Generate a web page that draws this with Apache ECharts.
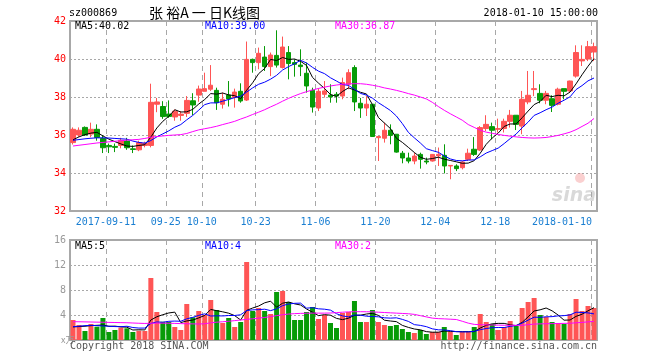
<!DOCTYPE html>
<html><head><meta charset="utf-8">
<script src="https://cdn.jsdelivr.net/npm/echarts/dist/echarts.min.js"></script>
<style>html,body{margin:0;padding:0;background:#fff}#c{width:660px;height:360px}</style>
</head><body><div id="c"></div>
<script>
const dates = ['2017-09-01','2017-09-04','2017-09-05','2017-09-06','2017-09-07','2017-09-08','2017-09-11','2017-09-12','2017-09-13','2017-09-14','2017-09-15','2017-09-18','2017-09-19','2017-09-20','2017-09-21','2017-09-22','2017-09-25','2017-09-26','2017-09-27','2017-09-28','2017-09-29','2017-10-09','2017-10-10','2017-10-11','2017-10-12','2017-10-13','2017-10-16','2017-10-17','2017-10-18','2017-10-19','2017-10-20','2017-10-23','2017-10-24','2017-10-25','2017-10-26','2017-10-27','2017-10-30','2017-10-31','2017-11-01','2017-11-02','2017-11-03','2017-11-06','2017-11-07','2017-11-08','2017-11-09','2017-11-10','2017-11-13','2017-11-14','2017-11-15','2017-11-16','2017-11-17','2017-11-20','2017-11-21','2017-11-22','2017-11-23','2017-11-24','2017-11-27','2017-11-28','2017-11-29','2017-11-30','2017-12-01','2017-12-04','2017-12-05','2017-12-06','2017-12-07','2017-12-08','2017-12-11','2017-12-12','2017-12-13','2017-12-14','2017-12-15','2017-12-18','2017-12-19','2017-12-20','2017-12-21','2017-12-22','2017-12-25','2017-12-26','2017-12-27','2017-12-28','2017-12-29','2018-01-02','2018-01-03','2018-01-04','2018-01-05','2018-01-08','2018-01-09','2018-01-10'];

const opens = [35.6,36.0,36.4,36.05,36.3,35.82,35.45,35.4,35.45,35.68,
 35.27,35.22,35.45,35.45,37.62,37.5,37.1,36.95,37.03,37.14,
 37.8,38.1,38.3,38.41,38.35,37.62,38.1,37.97,38.3,37.84,
 39.98,39.81,40.1,39.6,40.19,39.55,40.34,39.81,39.68,39.25,
 38.35,37.42,38.14,38.1,38.14,38.05,38.67,39.55,37.67,37.42,
 37.62,35.86,35.83,36.25,36.04,35.04,34.79,34.63,34.98,34.63,
 34.63,34.9,34.93,34.37,34.37,34.28,34.72,35.25,35.21,36.34,
 36.44,36.3,36.34,36.72,37.04,36.47,37.74,38.39,38.19,37.83,
 37.91,37.62,38.44,38.32,39.1,39.9,40.0,40.37];
const closes = [36.3,36.25,36.0,36.3,35.87,35.33,35.38,35.35,35.72,35.33,
 35.24,35.6,35.56,37.72,37.74,36.97,36.98,37.25,37.1,37.82,
 37.58,38.42,38.44,38.62,37.7,37.88,37.9,38.26,37.79,39.98,
 39.81,40.3,39.6,40.21,39.68,40.63,39.76,39.72,39.6,38.58,
 37.47,38.3,38.32,38.0,38.05,38.76,39.28,37.74,37.42,37.62,
 35.92,35.92,36.25,35.98,35.1,34.79,34.63,34.89,34.72,34.58,
 34.98,34.98,34.37,34.4,34.23,34.58,35.04,34.98,36.39,36.56,
 36.25,36.34,36.72,37.04,36.56,37.88,38.09,38.44,37.83,38.19,
 37.56,38.41,38.3,38.84,40.34,39.98,40.65,40.65];
const lows = [35.5,35.9,35.95,35.88,35.7,35.05,35.05,35.1,35.3,35.22,
 35.05,35.15,35.35,35.35,37.2,36.85,36.9,36.75,36.75,36.95,
 37.05,37.75,38.3,38.32,37.32,37.39,37.5,37.44,37.7,37.79,
 39.28,39.46,39.37,39.1,39.55,39.5,38.93,39.07,39.1,38.23,
 37.18,37.26,37.97,37.7,37.7,37.88,38.41,37.26,36.9,37.0,
 35.9,34.63,35.6,35.51,35.07,34.51,34.51,34.46,34.23,34.46,
 34.6,34.37,33.98,33.67,34.1,34.19,34.63,34.9,35.16,36.21,
 35.77,36.13,36.13,36.39,36.26,36.04,37.62,38.05,37.67,37.62,
 37.21,37.56,37.88,38.23,39.02,39.63,39.89,39.89];
const highs = [36.4,36.4,36.45,36.65,36.56,36.0,35.55,35.55,35.85,35.85,
 35.45,35.7,35.65,38.7,37.95,37.78,37.82,37.35,37.26,38.05,
 38.2,38.6,39.28,39.68,38.49,38.23,38.84,38.44,38.72,40.92,
 40.02,40.6,40.68,40.34,41.51,41.18,40.68,39.98,40.51,39.81,
 38.49,38.46,38.84,38.67,38.26,39.02,39.46,39.67,37.95,38.05,
 37.62,35.92,36.65,36.56,36.04,35.16,35.07,35.07,35.07,34.81,
 35.0,35.34,35.51,34.4,34.46,34.63,35.28,35.89,36.47,37.04,
 36.65,36.86,36.86,37.32,37.04,38.32,39.37,39.37,38.67,38.32,
 38.09,38.49,38.44,38.86,40.72,40.72,40.95,40.86];

const ma5 = [35.75,35.9,36.02,36.1,36.14,35.95,35.78,35.65,35.53,35.42,
 35.4,35.45,35.49,35.89,36.37,36.72,36.99,37.33,37.21,37.22,
 37.35,37.63,37.87,38.18,38.15,38.21,38.11,38.07,37.91,38.36,
 38.75,39.23,39.5,39.98,39.92,40.08,39.98,40.0,39.88,39.66,
 39.03,38.73,38.45,38.13,38.03,38.29,38.48,38.37,38.25,38.16,
 37.6,36.92,36.63,36.34,35.83,35.61,35.35,35.08,34.83,34.72,
 34.76,34.83,34.73,34.66,34.59,34.51,34.52,34.65,35.04,35.51,
 35.84,36.1,36.45,36.58,36.58,36.91,37.26,37.6,37.76,38.09,
 38.02,38.09,38.06,38.26,38.69,39.17,39.62,40.02];
const ma10 = [35.72,35.76,35.8,35.83,35.85,35.85,35.84,35.82,35.8,35.78,
 35.68,35.61,35.57,35.71,35.9,36.06,36.22,36.41,36.55,36.8,
 37.03,37.31,37.6,37.69,37.69,37.78,37.87,37.97,38.04,38.26,
 38.48,38.67,38.78,38.94,39.14,39.42,39.6,39.75,39.93,39.79,
 39.56,39.36,39.23,39.01,38.84,38.66,38.61,38.41,38.19,38.1,
 37.94,37.7,37.5,37.29,37.0,36.6,36.14,35.85,35.58,35.28,
 35.18,35.09,34.9,34.74,34.66,34.64,34.68,34.69,34.85,35.05,
 35.18,35.31,35.55,35.81,36.05,36.38,36.68,37.03,37.17,37.33,
 37.47,37.67,37.83,38.01,38.39,38.6,38.85,39.0];
const ma30 = [35.42,35.46,35.5,35.54,35.58,35.61,35.64,35.67,35.7,35.73,
 35.75,35.77,35.82,35.88,35.92,35.95,35.98,36.0,36.02,36.08,
 36.18,36.27,36.33,36.39,36.46,36.55,36.63,36.72,36.84,36.95,
 37.08,37.2,37.33,37.48,37.62,37.78,37.93,38.06,38.18,38.28,
 38.37,38.45,38.52,38.58,38.63,38.67,38.69,38.7,38.7,38.67,
 38.62,38.56,38.48,38.42,38.35,38.27,38.18,38.1,38.0,37.9,
 37.72,37.5,37.3,37.12,36.95,36.78,36.55,36.4,36.25,36.15,
 36.09,36.03,35.98,35.94,35.9,35.87,35.85,35.84,35.85,35.87,
 35.92,35.98,36.06,36.15,36.28,36.45,36.62,36.87];

const volumes = [3.2,2.4,1.44,2.56,2.13,3.52,1.28,1.6,1.97,1.87,
 1.28,1.49,1.44,9.92,4.48,2.93,2.88,2.08,1.6,5.76,
 3.63,4.64,4.0,6.4,4.8,2.72,3.52,2.08,2.88,12.48,
 4.64,5.12,4.64,4.16,7.68,7.84,6.08,3.2,3.2,4.48,
 5.28,3.36,4.0,2.72,1.92,4.32,4.48,6.24,2.88,2.88,
 4.8,2.88,2.4,2.24,2.4,1.76,1.28,1.12,1.6,0.96,
 1.28,1.28,2.08,1.28,0.8,1.28,1.28,2.08,4.16,2.88,
 2.56,1.6,2.08,3.04,2.24,5.12,6.08,6.72,4.0,3.68,
 2.88,2.72,2.56,4.16,6.56,4.64,5.44,5.12];
const volMa5 = [2.1,2.15,2.2,2.3,2.35,2.41,2.19,2.22,2.1,2.05,
 1.6,1.64,1.61,3.2,3.72,4.05,4.33,4.46,2.79,3.05,
 3.19,3.54,3.93,4.89,4.69,4.51,4.29,3.9,3.2,4.74,
 5.12,5.44,5.95,6.21,5.25,5.89,6.08,5.79,5.6,4.96,
 4.45,3.9,4.06,3.97,3.46,3.26,3.49,3.94,3.97,4.16,
 4.26,3.94,3.17,3.04,2.94,2.34,2.02,1.76,1.63,1.34,
 1.25,1.25,1.44,1.38,1.34,1.34,1.34,1.34,1.92,2.34,
 2.59,2.66,2.66,2.43,2.3,2.82,3.71,4.64,4.83,5.12,
 4.67,4.0,3.17,3.2,3.78,4.13,4.67,5.18];
const volMa10 = [2.13,2.2,2.3,2.35,2.3,2.25,2.2,2.15,2.13,2.2,
 2.0,1.91,1.91,2.65,2.89,2.83,2.99,3.03,3.0,3.39,
 3.62,3.94,4.19,3.84,3.87,3.85,3.92,3.92,4.04,4.72,
 4.82,4.86,4.93,4.7,4.99,5.5,5.76,5.87,5.9,5.1,
 5.17,4.99,4.93,4.78,4.21,3.86,3.7,4.0,3.97,3.81,
 3.76,3.71,3.55,3.5,3.55,3.3,2.98,2.46,2.34,2.14,
 1.79,1.63,1.6,1.5,1.34,1.3,1.3,1.39,1.65,1.84,
 1.97,2.0,2.0,2.18,2.32,2.7,3.18,3.65,3.63,3.71,
 3.74,3.86,3.9,4.02,4.45,4.4,4.34,4.18];
const volMa30 = [2.93,2.92,2.9,2.88,2.86,2.84,2.82,2.8,2.78,2.76,
 2.72,2.68,2.65,2.68,2.7,2.7,2.68,2.66,2.62,2.6,
 2.58,2.56,2.6,2.75,2.85,2.92,3.0,3.1,3.2,3.3,
 3.4,3.5,3.6,3.75,3.9,4.05,4.15,4.22,4.26,4.28,
 4.3,4.3,4.3,4.32,4.38,4.45,4.5,4.53,4.53,4.52,
 4.5,4.45,4.4,4.35,4.3,4.25,4.2,4.1,3.9,3.7,
 3.5,3.42,3.38,3.33,3.28,3.0,2.7,2.5,2.45,2.42,
 2.4,2.38,2.36,2.35,2.35,2.35,2.45,2.55,2.58,2.6,
 2.62,2.64,2.66,2.68,2.75,2.82,2.9,2.98];

const tickDates = ['2017-09-11','2017-09-25','2017-10-10','2017-10-23','2017-11-06','2017-11-20','2017-12-04','2017-12-18','2018-01-10'];
const tickLabels = ['2017-09-11','09-25','10-10','10-23','11-06','11-20','12-04','12-18','2018-01-10'];

const UP = '#ff5555', DOWN = '#079b07';
const MONO = "'DejaVu Sans Mono', monospace";
const GRID_C = '#a8a8a8';

const chart = echarts.init(document.getElementById('c'), null, {renderer: 'canvas'});
const kData = dates.map((d, i) => [opens[i], closes[i], lows[i], highs[i]]);
const volData = volumes.map((v, i) => ({value: v, itemStyle: {color: closes[i] >= opens[i] ? UP : DOWN}}));
const isTick = (i, v) => tickDates.indexOf(v) >= 0;

const lineS = (name, data, color, xi, yi) => ({
  name, type: 'line', data, xAxisIndex: xi, yAxisIndex: yi, showSymbol: false, symbol: 'none',
  lineStyle: {width: 1, color}, itemStyle: {color}, silent: true, z: 5
});

const txt = (text, x, y, fill, font, align, z) => ({
  type: 'text', x, y, silent: true, z: z || 100,
  style: {text, fill, font: font || ('10px ' + MONO), textAlign: align || 'left', textVerticalAlign: 'middle'}
});

chart.setOption({
  animation: false,
  backgroundColor: '#fff',
  grid: [
    {left: 70, top: 21, width: 527, height: 190, show: true, borderColor: GRID_C, borderWidth: 2, backgroundColor: 'transparent'},
    {left: 70, top: 240, width: 527, height: 100, show: true, borderColor: GRID_C, borderWidth: 2, backgroundColor: 'transparent'}
  ],
  xAxis: [
    {type: 'category', gridIndex: 0, data: dates, boundaryGap: true,
     axisLine: {show: false}, axisTick: {show: false},
     splitLine: {show: true, interval: isTick, lineStyle: {color: GRID_C, type: [5, 4], width: 1}},
     axisLabel: {interval: isTick, margin: 6, color: '#1a7fd2', fontFamily: MONO, fontSize: 10,
       formatter: (v) => { const k = tickDates.indexOf(v); if (k < 0) return ''; return (k === tickDates.length - 1 ? '{l|' : '{n|') + tickLabels[k] + '}'; },
       rich: {n: {padding: [0, 6, 0, 0], color: '#1a7fd2', fontFamily: MONO, fontSize: 10},
              l: {padding: [0, 64, 0, 0], color: '#1a7fd2', fontFamily: MONO, fontSize: 10}}}},
    {type: 'category', gridIndex: 1, data: dates, boundaryGap: true,
     axisLine: {show: false}, axisTick: {show: false}, axisLabel: {show: false},
     splitLine: {show: true, interval: isTick, lineStyle: {color: GRID_C, type: [5, 4], width: 1}}}
  ],
  yAxis: [
    {type: 'value', gridIndex: 0, min: 32, max: 42, interval: 2, position: 'left',
     axisLine: {show: false}, axisTick: {show: false},
     axisLabel: {color: '#ff0000', fontFamily: MONO, fontSize: 10, margin: 4},
     splitLine: {show: true, lineStyle: {color: GRID_C, type: [2, 2], width: 1}}},
    {type: 'value', gridIndex: 1, min: 0, max: 16, interval: 4, position: 'left',
     axisLine: {show: false}, axisTick: {show: false},
     axisLabel: {color: '#999', fontFamily: MONO, fontSize: 10, margin: 4, formatter: (v) => v === 0 ? '' : String(v)},
     splitLine: {show: true, lineStyle: {color: GRID_C, type: [2, 2], width: 1}}}
  ],
  series: [
    {name: 'K', type: 'candlestick', data: kData, xAxisIndex: 0, yAxisIndex: 0, barWidth: 5, silent: true,
     itemStyle: {color: UP, color0: DOWN, borderColor: UP, borderColor0: DOWN, borderWidth: 1}},
    lineS('MA5', ma5, '#000000', 0, 0),
    lineS('MA10', ma10, '#0000ff', 0, 0),
    lineS('MA30', ma30, '#ff00ff', 0, 0),
    {name: 'VOL', type: 'bar', data: volData, xAxisIndex: 1, yAxisIndex: 1, barWidth: 5, silent: true},
    lineS('VMA5', volMa5, '#000000', 1, 1),
    lineS('VMA10', volMa10, '#0000ff', 1, 1),
    lineS('VMA30', volMa30, '#ff00ff', 1, 1)
  ],
  graphic: [
    txt('sz000869', 69, 13, '#000'),
    txt('张 裕A 一 日K线图', 149, 13, '#000', '14px "Noto Sans CJK SC", sans-serif'),
    txt('2018-01-10 15:00:00', 598, 13, '#000', null, 'right'),
    txt('MA5:40.02', 75, 26, '#000'),
    txt('MA10:39.00', 205, 26, '#0000ff'),
    txt('MA30:36.87', 335, 26, '#ff00ff'),
    txt('MA5:5', 75, 246, '#000'),
    txt('MA10:4', 205, 246, '#0000ff'),
    txt('MA30:2', 335, 246, '#ff00ff'),
    txt('x万', 61, 340, '#999', '9px "Noto Sans CJK SC", sans-serif'),
    txt('Copyright 2018 SINA.COM', 70, 346, '#555'),
    txt('http://finance.sina.com.cn', 597, 346, '#555', null, 'right'),
    {type: 'circle', shape: {cx: 580, cy: 178, r: 5}, style: {fill: 'rgba(240,120,120,0.35)'}, silent: true, z: 1},
    txt('sina', 596, 196, 'rgba(170,170,170,0.45)', 'italic bold 19px "DejaVu Sans", sans-serif', 'right', 1)
  ]
});
</script>
</body></html>
